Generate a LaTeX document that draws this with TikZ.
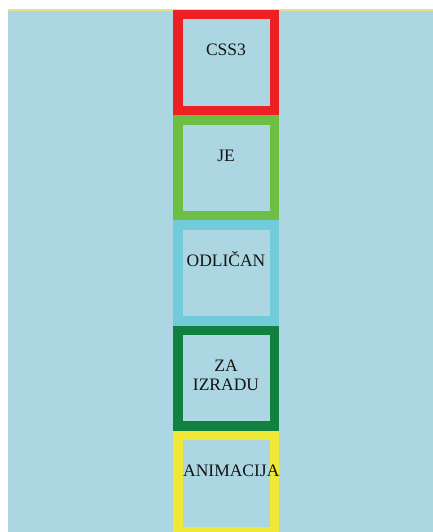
\documentclass[tikz,border=0pt]{standalone}
\usepackage{fontspec}
\setmainfont{Liberation Serif}
\usetikzlibrary{positioning}

\definecolor{pagebg}{RGB}{173,214,227}
\definecolor{topline}{RGB}{226,224,140}
\definecolor{boxred}{RGB}{237,32,36}
\definecolor{boxgreen}{RGB}{108,190,69}
\definecolor{boxcyan}{RGB}{114,203,218}
\definecolor{boxdark}{RGB}{18,128,62}
\definecolor{boxyellow}{RGB}{240,232,55}
\definecolor{inktext}{RGB}{20,20,20}

\tikzset{
  animbox/.style={draw=#1, line width=9.5pt, minimum width=96.5pt,
    minimum height=95.7pt, inner sep=0pt},
  animtxt/.style={font=\fontsize{17.5pt}{19pt}\selectfont, text=inktext,
    inner sep=0pt, align=center, anchor=base}
}

\begin{document}
\begin{tikzpicture}[x=1pt,y=-1pt]
  \useasboundingbox (0,0) rectangle (433,532);
  % page
  \fill[pagebg] (8,11) rectangle (433,532);
  \draw[topline, line width=2pt] (8,10) -- (433,10);
  % boxes
  \node[animbox=boxred] (css) at (226,62.6) {};
  \node[animbox=boxgreen, below=0pt of css] (je) {};
  \node[animbox=boxcyan, below=0pt of je] (odl) {};
  \node[animbox=boxdark, below=0pt of odl] (za) {};
  \node[animbox=boxyellow, below=0pt of za] (anim) {};
  % labels
  \node[animtxt] (csstxt) at ([yshift=-46pt]css.north) {CSS3};
  \node[animtxt] (jetxt) at ([yshift=-46pt]je.north) {JE};
  \node[animtxt] (odltxt) at ([yshift=-46pt]odl.north) {ODLIČAN};
  % base is the last line here
  \node[animtxt] (zatxt) at ([yshift=-65pt]za.north) {ZA\\IZRADU};
  \node[animtxt, anchor=base west] (animtxt) at ([xshift=10pt,yshift=-46pt]anim.north west) {ANIMACIJA};
\end{tikzpicture}
\end{document}
